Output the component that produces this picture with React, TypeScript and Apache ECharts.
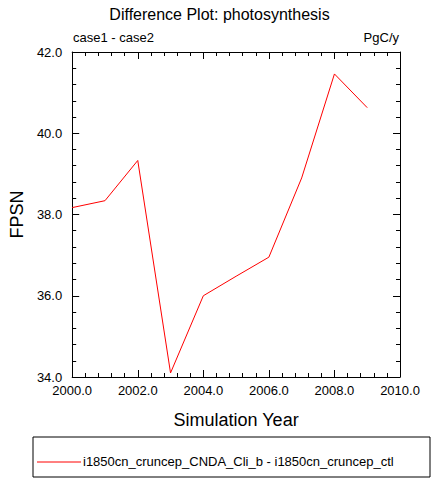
import React, { useEffect, useRef } from "react";
import * as echarts from "echarts";

const years = [2000, 2001, 2002, 2003, 2004, 2005, 2006, 2007, 2008, 2009];
const fpsn = [38.17, 38.34, 39.33, 34.1, 36.0, 36.48, 36.95, 38.9, 41.46, 40.63];
const title = "Difference Plot: photosynthesis";
const legendLabel = "i1850cn_cruncep_CNDA_Cli_b - i1850cn_cruncep_ctl";

export default function App() {
  const ref = useRef<HTMLDivElement>(null);
  useEffect(() => {
    const chart = echarts.init(ref.current!, null, { renderer: "svg" });
    const font = "Liberation Sans, Arial, sans-serif";
    const baseAxis = (show: boolean, margin: number) => ({
      axisLine: { show: true, lineStyle: { color: "#000", width: 1 } },
      axisTick: { show: true, inside: true, length: 7, lineStyle: { color: "#000" } },
      minorTick: { show: true, splitNumber: 5, length: 4, lineStyle: { color: "#000" } },
      splitLine: { show: false },
      axisLabel: { show, margin, color: "#000", fontSize: 13, fontFamily: font, formatter: (v: number) => v.toFixed(1) },
    });
    chart.setOption({
      animation: false,
      textStyle: { fontFamily: font },
      title: { text: title, left: "center", top: 1, textStyle: { fontSize: 16, fontWeight: "normal", color: "#000", fontFamily: font } },
      grid: { left: 58, top: 52, width: 342, height: 325 },
      xAxis: [
        { type: "value", min: 2000, max: 2010, interval: 2, position: "bottom", ...baseAxis(true, 7),
          name: "Simulation Year", nameLocation: "middle", nameGap: 34, nameTextStyle: { fontSize: 18, color: "#000", fontFamily: font } },
        { type: "value", min: 2000, max: 2010, interval: 2, position: "top", ...baseAxis(false, 8) },
      ],
      yAxis: [
        { type: "value", min: 34, max: 42, interval: 2, position: "left", ...baseAxis(true, 10),
          name: "FPSN", nameLocation: "middle", nameGap: 42, nameTextStyle: { fontSize: 18, color: "#000", fontFamily: font } },
        { type: "value", min: 34, max: 42, interval: 2, position: "right", ...baseAxis(false, 8) },
      ],
      series: [{
        type: "line", data: years.map((y, i) => [y, fpsn[i]]), showSymbol: false,
        lineStyle: { color: "#ff0000", width: 1 }, itemStyle: { color: "#ff0000" },
      }],
      graphic: [
        { type: "text", left: 73, top: 31, style: { text: "case1 - case2", fontSize: 13, fill: "#000", fontFamily: font } },
        { type: "text", right: 40, top: 31, style: { text: "PgC/y", fontSize: 13, fill: "#000", fontFamily: font } },
        { type: "rect", shape: { x: 33, y: 437, width: 397, height: 40 }, style: { fill: "none", stroke: "#000", lineWidth: 1 } },
        { type: "line", shape: { x1: 37, y1: 462, x2: 81, y2: 462 }, style: { stroke: "#ff0000", lineWidth: 1 } },
        { type: "text", x: 83, y: 455, style: { text: legendLabel, fontSize: 13, fill: "#000", fontFamily: font } },
      ],
    });
    return () => chart.dispose();
  }, []);
  return <div ref={ref} style={{ width: 439, height: 484, position: "absolute", left: 0, top: 0, background: "#fff" }} />;
}
